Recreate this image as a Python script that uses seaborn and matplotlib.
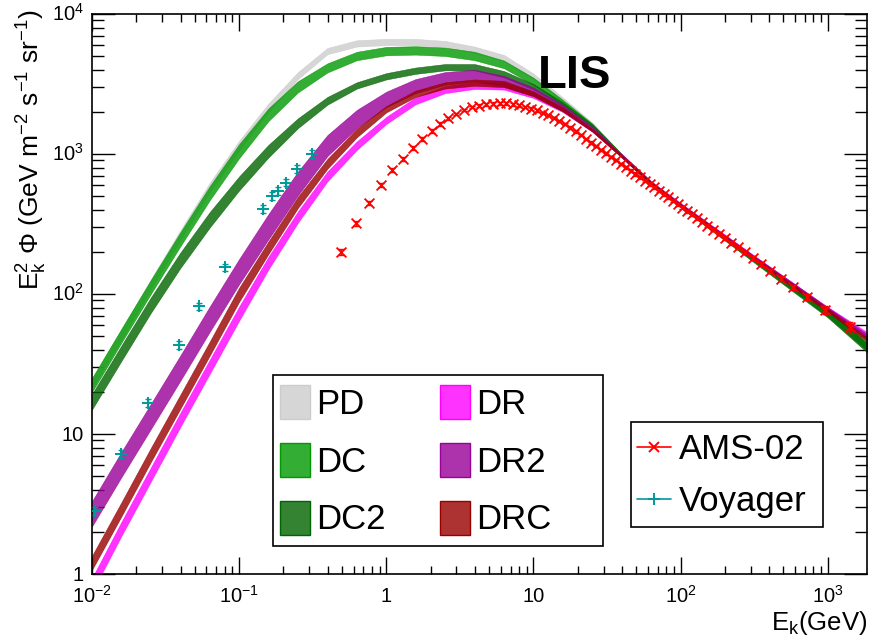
import numpy as np
import pandas as pd
import matplotlib
matplotlib.use("Agg")
import matplotlib.pyplot as plt
from matplotlib.patches import Patch, Rectangle
from matplotlib.lines import Line2D
from matplotlib.colors import to_rgba
from matplotlib import ticker
import seaborn as sns

# ---------------------------------------------------------------------------
# Propagation model bands: kinetic energy grid (GeV) and, for each model,
# the band centre and full band width, both in log10(E_k^2 * flux).
# ---------------------------------------------------------------------------
model_energy = [0.01, 0.0158, 0.0251, 0.0398, 0.0631, 0.1, 0.158, 0.251, 0.398,
                0.631, 1.0, 1.58, 2.51, 3.98, 6.31, 10.0, 15.8, 25.1, 39.8,
                63.1, 100.0, 316.0, 1000.0, 2000.0]

pd_mid = [1.36, 1.71, 2.07, 2.42, 2.76, 3.06, 3.33, 3.56, 3.735, 3.79, 3.80, 3.80,
          3.785, 3.745, 3.685, 3.555, 3.39, 3.215, 2.99, 2.795, 2.635, 2.255, 1.875, 1.63]
pd_width = [0.07, 0.07, 0.07, 0.07, 0.07, 0.07, 0.06, 0.05, 0.045, 0.045, 0.045, 0.045,
            0.045, 0.045, 0.045, 0.04, 0.03, 0.02, 0.02, 0.02, 0.02, 0.025, 0.03, 0.04]

dc_mid = [1.35, 1.70, 2.05, 2.39, 2.72, 3.02, 3.28, 3.48, 3.615, 3.70, 3.735, 3.74,
          3.73, 3.70, 3.64, 3.52, 3.37, 3.205, 2.99, 2.795, 2.635, 2.25, 1.865, 1.595]
dc_width = [0.10, 0.10, 0.10, 0.10, 0.10, 0.10, 0.09, 0.08, 0.065, 0.06, 0.06, 0.06,
            0.06, 0.06, 0.055, 0.05, 0.035, 0.025, 0.02, 0.02, 0.025, 0.035, 0.05, 0.06]

dc2_mid = [1.23, 1.575, 1.92, 2.24, 2.53, 2.79, 3.02, 3.22, 3.38, 3.49, 3.555, 3.595,
           3.62, 3.62, 3.57, 3.48, 3.355, 3.20, 2.99, 2.79, 2.632, 2.245, 1.86, 1.585]
dc2_width = [0.11, 0.11, 0.11, 0.11, 0.11, 0.10, 0.09, 0.07, 0.055, 0.045, 0.045, 0.045,
             0.045, 0.045, 0.045, 0.04, 0.03, 0.025, 0.02, 0.02, 0.025, 0.04, 0.055, 0.065]

dr_mid = [-0.08, 0.32, 0.71, 1.10, 1.48, 1.86, 2.22, 2.55, 2.84, 3.06, 3.24, 3.38,
          3.46, 3.49, 3.485, 3.42, 3.315, 3.17, 2.99, 2.795, 2.64, 2.265, 1.895, 1.69]
dr_width = [0.10, 0.10, 0.10, 0.10, 0.10, 0.10, 0.09, 0.08, 0.07, 0.06, 0.05, 0.05,
            0.05, 0.05, 0.05, 0.04, 0.03, 0.02, 0.02, 0.02, 0.02, 0.02, 0.025, 0.03]

dr2_mid = [0.43, 0.78, 1.125, 1.47, 1.82, 2.16, 2.48, 2.79, 3.06, 3.25, 3.39, 3.485,
           3.54, 3.56, 3.52, 3.445, 3.33, 3.18, 2.985, 2.79, 2.635, 2.26, 1.89, 1.67]
dr2_width = [0.18, 0.18, 0.18, 0.18, 0.18, 0.18, 0.18, 0.17, 0.15, 0.13, 0.11, 0.10,
             0.09, 0.085, 0.075, 0.06, 0.045, 0.03, 0.02, 0.02, 0.02, 0.025, 0.03, 0.035]

drc_mid = [0.08, 0.46, 0.85, 1.23, 1.61, 1.995, 2.33, 2.655, 2.93, 3.15, 3.32, 3.43,
           3.49, 3.51, 3.50, 3.43, 3.32, 3.17, 2.985, 2.79, 2.632, 2.255, 1.885, 1.65]
drc_width = [0.10, 0.10, 0.10, 0.10, 0.10, 0.10, 0.09, 0.08, 0.07, 0.06, 0.045, 0.045,
             0.045, 0.045, 0.045, 0.035, 0.03, 0.02, 0.02, 0.02, 0.02, 0.02, 0.025, 0.03]

model_names = ["PD", "DC", "DC2", "DR", "DR2", "DRC"]
model_colors = ["#cccccc", "#009900", "#006400", "#ff00ff", "#990099", "#990000"]

# ---------------------------------------------------------------------------
# Measurements: E_k (GeV), E_k^2 * flux (GeV m^-2 s^-1 sr^-1), error in percent
# ---------------------------------------------------------------------------
ams_ek = [0.490, 0.619, 0.761, 0.923, 1.102, 1.300, 1.520, 1.762, 2.030, 2.326,
          2.647, 3.001, 3.385, 3.805, 4.267, 4.768, 5.311, 5.899, 6.538, 7.228,
          7.973, 8.778, 9.645, 10.59, 11.59, 12.63, 13.79, 15.03, 16.38, 17.82,
          19.36, 21.01, 22.81, 24.76, 26.81, 29.01, 31.36, 33.85, 36.54, 39.44,
          42.54, 45.84, 49.39, 53.19, 57.23, 61.58, 66.28, 71.32, 76.72, 82.52,
          88.76, 95.51, 103.0, 111.0, 119.5, 129.0, 140.0, 152.4, 166.4, 182.4,
          200.4, 220.8, 244.7, 273.6, 309.0, 352.7, 407.9, 480.3, 580.1, 726.1,
          962.9, 1425.0]
ams_flux = [200, 320, 449, 601, 769, 921, 1104, 1280, 1460, 1645,
            1798, 1931, 2062, 2157, 2215, 2265, 2290, 2300, 2296, 2260,
            2222, 2173, 2113, 2046, 1972, 1897, 1811, 1726, 1637, 1545,
            1452, 1368, 1285, 1208, 1138, 1072, 1012, 955, 902, 852,
            805, 762, 720, 681, 644, 610, 577, 546, 516, 489,
            463, 438, 413, 391, 370, 349, 328, 308, 288, 269,
            250, 232, 215, 198, 180, 163, 146, 129, 112, 95,
            77, 58]
ams_err_pct = [5, 4, 3.5, 3, 3, 3, 3, 3, 3, 3,
               2, 2, 2, 2, 2, 2, 2, 2, 2, 2,
               2, 2, 2, 2, 2, 2, 2, 2, 2, 2,
               2, 2, 2, 2, 2, 2, 2, 2, 2, 2,
               2.5, 2.5, 2.5, 2.5, 2.5, 2.5, 2.5, 2.5, 2.5, 2.5,
               2.5, 2.5, 2.5, 2.5, 2.5, 2.5, 2.5, 2.5, 2.5, 2.5,
               3, 3, 3, 3, 3, 3, 4, 4, 4, 5,
               6, 9]

voyager_ek = [0.0104, 0.0157, 0.0242, 0.0393, 0.0530, 0.0798, 0.146, 0.166,
              0.183, 0.207, 0.246, 0.311]
voyager_flux = [2.82, 7.2, 16.7, 43.2, 82, 155, 405, 503, 544, 624, 781, 1000]
voyager_err_pct = [6, 6, 6, 6, 6, 6, 6, 6, 6, 6, 6, 6]

x_ticks = [1e-2, 1e-1, 1, 10, 1e2, 1e3]
x_ticklabels = [r"$\mathregular{10^{-2}}$", r"$\mathregular{10^{-1}}$", "1", "10",
                r"$\mathregular{10^{2}}$", r"$\mathregular{10^{3}}$"]
y_ticks = [1, 10, 1e2, 1e3, 1e4]
y_ticklabels = ["1", "10", r"$\mathregular{10^{2}}$", r"$\mathregular{10^{3}}$",
                r"$\mathregular{10^{4}}$"]

# ---------------------------------------------------------------------------
sns.set_theme(style="ticks")
plt.rcParams["font.family"] = ["Liberation Sans", "DejaVu Sans"]
plt.rcParams["mathtext.fontset"] = "custom"
plt.rcParams["mathtext.rm"] = "Liberation Sans"
plt.rcParams["mathtext.it"] = "Liberation Sans:italic"
plt.rcParams["mathtext.bf"] = "Liberation Sans:bold"
plt.rcParams["mathtext.sf"] = "Liberation Sans"
plt.rcParams["text.color"] = "black"
plt.rcParams["axes.labelcolor"] = "black"
plt.rcParams["legend.labelcolor"] = "black"

W, H = 870, 638
fig = plt.figure(figsize=(W / 100, H / 100), dpi=100)
ax = fig.add_axes([92 / W, 1 - 574 / H, 775 / W, 560 / H])
ax.set_xscale("log")
ax.set_yscale("log")

# model bands
mids = [pd_mid, dc_mid, dc2_mid, dr_mid, dr2_mid, drc_mid]
widths = [pd_width, dc_width, dc2_width, dr_width, dr2_width, drc_width]
for name, mid, width, color in zip(model_names, mids, widths, model_colors):
    mid = np.asarray(mid)
    half = np.asarray(width) / 2
    ax.fill_between(model_energy, 10 ** (mid - half), 10 ** (mid + half),
                    facecolor=to_rgba(color, 0.8), edgecolor=to_rgba(color, 0.8),
                    linewidth=0.4, zorder=2)

# AMS-02 points
ams = pd.DataFrame({"Ek": ams_ek, "flux": ams_flux, "err": ams_err_pct})
ams["yerr"] = ams["flux"] * ams["err"] / 100
ax.errorbar(ams["Ek"], ams["flux"], yerr=ams["yerr"], fmt="none", ecolor="red",
            elinewidth=1.0, capsize=2.5, capthick=1.0, zorder=5)
sns.scatterplot(data=ams, x="Ek", y="flux", marker="x", color="red", s=50,
                linewidth=1.3, ax=ax, zorder=6, legend=False)

# Voyager points
voy = pd.DataFrame({"Ek": voyager_ek, "flux": voyager_flux, "err": voyager_err_pct})
voy["yerr"] = voy["flux"] * voy["err"] / 100
ax.errorbar(voy["Ek"], voy["flux"], yerr=voy["yerr"], fmt="none", ecolor="#009999",
            elinewidth=1.0, capsize=2.5, capthick=1.0, zorder=5)
sns.scatterplot(data=voy, x="Ek", y="flux", marker="+", color="#009999", s=70,
                linewidth=1.4, ax=ax, zorder=6, legend=False)

ax.set_xlim(0.01, 1850)
ax.set_ylim(1, 1e4)
ax.set_xlabel("")
ax.set_ylabel("")

# frame and ticks
for sp in ax.spines.values():
    sp.set_visible(True)
    sp.set_color("black")
    sp.set_linewidth(1.2)
ax.xaxis.set_major_locator(ticker.FixedLocator(x_ticks))
ax.yaxis.set_major_locator(ticker.FixedLocator(y_ticks))
ax.xaxis.set_minor_locator(ticker.LogLocator(base=10, subs=np.arange(2, 10), numticks=20))
ax.yaxis.set_minor_locator(ticker.LogLocator(base=10, subs=np.arange(2, 10), numticks=20))
ax.xaxis.set_minor_formatter(ticker.NullFormatter())
ax.yaxis.set_minor_formatter(ticker.NullFormatter())
ax.tick_params(which="both", direction="in", top=True, right=True, colors="black",
               labelbottom=False, labelleft=False, width=1.0)
ax.tick_params(axis="x", which="major", length=12.2)
ax.tick_params(axis="x", which="minor", length=6.1)
ax.tick_params(axis="y", which="major", length=16.5)
ax.tick_params(axis="y", which="minor", length=8.6)

# tick labels
for xv, lab in zip(x_ticks, x_ticklabels):
    ax.annotate(lab, xy=(xv, 0), xycoords=("data", "axes fraction"),
                xytext=(0, -20.5), textcoords="offset points",
                ha="center", va="baseline", fontsize=14.5, color="black",
                annotation_clip=False)
for yv, lab in zip(y_ticks, y_ticklabels):
    ax.annotate(lab, xy=(0, yv), xycoords=("axes fraction", "data"),
                xytext=(-5.8, -5.2), textcoords="offset points",
                ha="right", va="baseline", fontsize=14.5, color="black",
                annotation_clip=False)

# axis titles
fig.text(32 / W, 1 - 10 / H,
         r"$\mathregular{E_{k}^{2}\ \Phi\ (GeV\ m^{-2}\ s^{-1}\ sr^{-1})}$",
         rotation=90, ha="center", va="top", fontsize=19, color="black")
fig.text(867 / W, 1 - 630 / H, r"$\mathregular{E_{k}(GeV)}$",
         ha="right", va="baseline", fontsize=18.5, color="black")

fig.text(575 / W, 1 - 88 / H, "LIS", ha="center", va="baseline",
         fontsize=34, fontweight="bold", color="black")

# legend frames
for (x0, y0, x1, y1) in [(273, 375, 603, 546), (631, 422, 823, 527)]:
    ax.add_patch(Rectangle((x0 / W, 1 - y1 / H), (x1 - x0) / W, (y1 - y0) / H,
                           transform=fig.transFigure, facecolor="white",
                           edgecolor="black", linewidth=1.2, zorder=8, clip_on=False))

# legend for the model bands
band_handles = [Patch(facecolor=to_rgba(c, 0.8), edgecolor=c, linewidth=1.0, label=n)
                for n, c in zip(model_names, model_colors)]
leg1 = ax.legend(handles=band_handles, ncol=2, loc="upper left",
                 bbox_to_anchor=(280 / W, 1 - 385 / H), bbox_transform=fig.transFigure,
                 fontsize=25, frameon=False, handlelength=0.865, handleheight=1.12,
                 handletextpad=0.17, columnspacing=1.57, labelspacing=0.64,
                 borderpad=0, borderaxespad=0, labelcolor="black")
leg1.set_zorder(10)
ax.add_artist(leg1)

# legend for the measurements
data_handles = [
    Line2D([], [], color="red", marker="x", markersize=7, markeredgewidth=1.4,
           linewidth=1.2, label="AMS-02"),
    Line2D([], [], color="#009999", marker="+", markersize=8, markeredgewidth=1.4,
           linewidth=1.2, label="Voyager"),
]
leg2 = ax.legend(handles=data_handles, loc="upper left",
                 bbox_to_anchor=(637 / W, 1 - 433 / H), bbox_transform=fig.transFigure,
                 fontsize=25, frameon=False, handlelength=0.98, handletextpad=0.23,
                 labelspacing=0.56, borderpad=0, borderaxespad=0, labelcolor="black")
leg2.set_zorder(10)

fig.savefig("out.png", dpi=100, facecolor="white")
